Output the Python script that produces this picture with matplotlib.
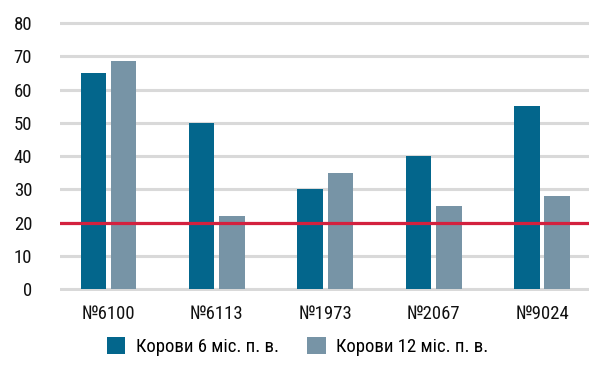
import numpy as np
import matplotlib
matplotlib.use("Agg")
import matplotlib.pyplot as plt
from matplotlib import font_manager

categories = ["№6100", "№6113", "№1973", "№2067", "№9024"]
cows_6 = [65, 50, 30, 40, 55]
cows_12 = [68.5, 22, 35, 25, 28]
threshold = 20
y_ticks = [0, 10, 20, 30, 40, 50, 60, 70, 80]
labels = ["Корови 6 міс. п. в.", "Корови 12 міс. п. в."]

# pick a narrow font if there is one
names = {f.name for f in font_manager.fontManager.ttflist}
family = "DejaVu Sans"
for cand in ["Liberation Sans Narrow", "Roboto Condensed", "Roboto", "Liberation Sans"]:
    if cand in names:
        family = cand
        break
plt.rcParams["font.family"] = [family, "DejaVu Sans"]

fig = plt.figure(figsize=(6.07, 3.73), dpi=100)
ax = fig.add_axes([0.0988, 0.219, 0.8715, 0.7247])

x = np.arange(len(categories))
w = 0.235
ax.bar(x - 0.14, cows_6, w, color="#03668c", label=labels[0], zorder=2)
ax.bar(x + 0.14, cows_12, w, color="#7794a6", label=labels[1], zorder=2)
ax.axhline(threshold, color="#d3213f", lw=2.3, zorder=3)

ax.set_xlim(-0.447, 4.433)
ax.set_ylim(-0.6, 80.6)
ax.set_yticks(y_ticks)
ax.set_xticks(x)
ax.set_xticklabels(categories)
ax.grid(axis="y", color="#d9d9d9", lw=2.2, zorder=0)
ax.set_axisbelow(True)
for s in ax.spines.values():
    s.set_visible(False)
ax.tick_params(axis="both", length=0, labelsize=13.5, colors="#111111")
ax.tick_params(axis="y", pad=20)
ax.tick_params(axis="x", pad=10)

fig.legend(loc="center", bbox_to_anchor=(0.49, 0.071), ncol=2, frameon=False,
           fontsize=13.5, handlelength=1.0, handleheight=1.0, columnspacing=1.5,
           handletextpad=0.55)

fig.savefig("out.png", dpi=100)
